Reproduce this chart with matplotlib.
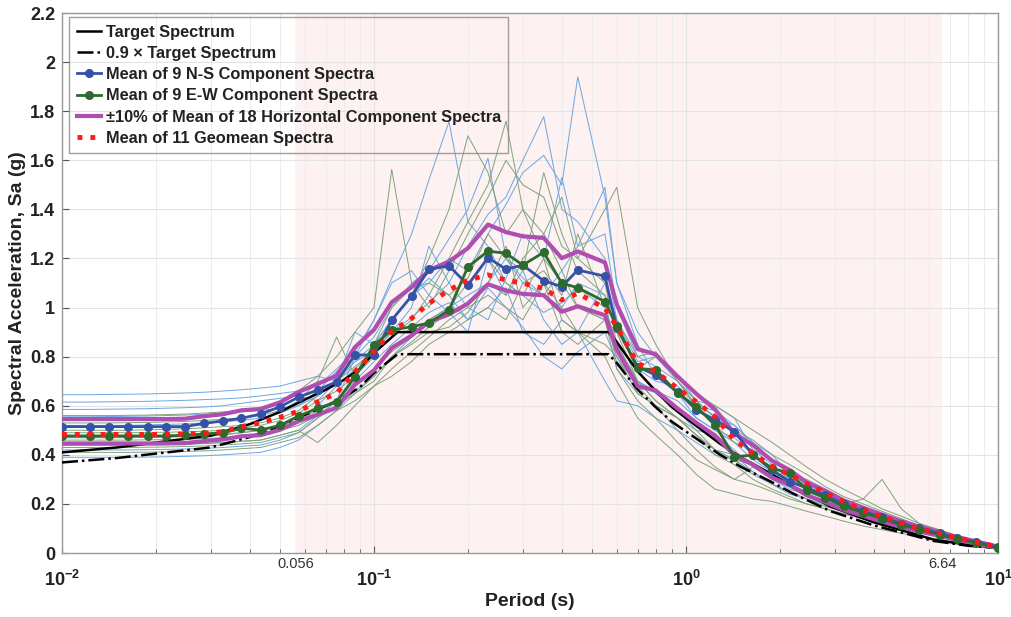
import matplotlib
matplotlib.use('Agg')
import matplotlib.pyplot as plt
import matplotlib.transforms as mtransforms
from matplotlib.ticker import FixedLocator, FuncFormatter, LogLocator, NullFormatter
import numpy as np

plt.rcParams['font.family'] = ['Liberation Sans', 'DejaVu Sans']
plt.rcParams['mathtext.fontset'] = 'custom'
plt.rcParams['mathtext.rm'] = 'Liberation Sans'
plt.rcParams['mathtext.bf'] = 'Liberation Sans:bold'

# periods (s)
T = [0.01, 0.0123, 0.0141, 0.0163, 0.0188, 0.0215, 0.0248, 0.0285, 0.0328, 0.0376,
     0.0433, 0.05, 0.0573, 0.066, 0.0759, 0.0869, 0.1, 0.114, 0.132, 0.15,
     0.174, 0.2, 0.232, 0.265, 0.3, 0.35, 0.4, 0.45, 0.55, 0.6,
     0.7, 0.8, 0.94, 1.08, 1.24, 1.43, 1.64, 1.89, 2.15, 2.44,
     2.8, 3.2, 3.7, 4.25, 4.9, 5.6, 6.5, 7.4, 8.5, 10]

# target spectrum
T_target = [0.01, 0.015, 0.02, 0.03, 0.04, 0.05, 0.06, 0.07, 0.08, 0.09, 0.1, 0.119,
            0.565, 0.6, 0.7, 0.8, 0.9, 1.0, 1.28, 1.5, 1.86, 2.2, 2.9, 4.0, 5.0, 6.2, 8.0, 10.0]
Sa_target = [0.41, 0.43, 0.45, 0.478, 0.525, 0.575, 0.625, 0.665, 0.705, 0.75, 0.815, 0.9,
             0.9, 0.86, 0.74, 0.66, 0.595, 0.55, 0.447, 0.39, 0.325, 0.27, 0.19, 0.125, 0.09, 0.055, 0.033, 0.022]

mean_ns = [0.515, 0.515, 0.515, 0.515, 0.515, 0.515, 0.515, 0.528, 0.538, 0.549,
           0.566, 0.596, 0.635, 0.664, 0.698, 0.807, 0.807, 0.949, 1.047, 1.156,
           1.17, 1.092, 1.203, 1.156, 1.173, 1.109, 1.085, 1.153, 1.128, 0.917,
           0.759, 0.725, 0.657, 0.583, 0.542, 0.494, 0.40, 0.338, 0.29, 0.265,
           0.235, 0.20, 0.17, 0.145, 0.12, 0.10, 0.08, 0.06, 0.045, 0.025]

mean_ew = [0.477, 0.477, 0.477, 0.477, 0.477, 0.477, 0.48, 0.485, 0.49, 0.508,
           0.501, 0.52, 0.558, 0.589, 0.616, 0.718, 0.847, 0.908, 0.922, 0.937,
           0.99, 1.166, 1.23, 1.221, 1.173, 1.225, 1.099, 1.081, 1.024, 0.925,
           0.752, 0.746, 0.651, 0.596, 0.521, 0.392, 0.399, 0.345, 0.325, 0.257,
           0.225, 0.19, 0.165, 0.14, 0.115, 0.095, 0.075, 0.058, 0.042, 0.022]

geomean = [0.483, 0.483, 0.483, 0.483, 0.483, 0.483, 0.485, 0.488, 0.494, 0.515,
           0.531, 0.553, 0.578, 0.616, 0.651, 0.739, 0.82, 0.902, 0.956, 1.017,
           1.071, 1.112, 1.133, 1.112, 1.099, 1.078, 1.031, 1.058, 0.997, 0.922,
           0.773, 0.739, 0.671, 0.616, 0.555, 0.46, 0.406, 0.352, 0.318, 0.284,
           0.245, 0.21, 0.175, 0.148, 0.122, 0.10, 0.08, 0.062, 0.045, 0.025]

# individual N-S component records
ns_records = [
    [0.645, 0.645, 0.646, 0.647, 0.648, 0.65, 0.652, 0.655, 0.66, 0.665, 0.672, 0.68, 0.70,
     0.72, 0.70, 0.78, 0.85, 0.95, 1.05, 1.10, 1.20, 1.15, 1.30, 1.42, 1.55, 1.62, 1.50, 1.94, 1.45, 1.10,
     0.85, 0.72, 0.65, 0.55, 0.50, 0.47, 0.40, 0.33, 0.28, 0.25, 0.22, 0.19, 0.16, 0.14, 0.12, 0.10, 0.08, 0.06, 0.045, 0.025],
    [0.615, 0.615, 0.616, 0.617, 0.618, 0.62, 0.622, 0.625, 0.628, 0.632, 0.64, 0.65, 0.66,
     0.68, 0.75, 0.82, 0.95, 1.12, 1.30, 1.52, 1.757, 1.35, 1.25, 1.10, 1.05, 0.98, 1.02, 1.08, 1.00, 0.85,
     0.70, 0.66, 0.62, 0.55, 0.50, 0.45, 0.38, 0.33, 0.30, 0.27, 0.24, 0.21, 0.18, 0.15, 0.125, 0.10, 0.08, 0.062, 0.046, 0.026],
    [0.585, 0.585, 0.586, 0.587, 0.588, 0.59, 0.592, 0.595, 0.60, 0.61, 0.62, 0.63, 0.64,
     0.62, 0.70, 0.78, 0.82, 0.90, 0.96, 1.02, 1.10, 1.25, 1.38, 1.45, 1.60, 1.778, 1.40, 1.35, 1.20, 0.95,
     0.75, 0.70, 0.68, 0.60, 0.58, 0.52, 0.45, 0.38, 0.32, 0.30, 0.26, 0.22, 0.19, 0.16, 0.13, 0.11, 0.09, 0.07, 0.05, 0.028],
    [0.555, 0.555, 0.556, 0.557, 0.558, 0.56, 0.562, 0.565, 0.57, 0.575, 0.58, 0.59, 0.60,
     0.66, 0.74, 0.80, 0.88, 1.00, 1.10, 1.15, 1.28, 1.40, 1.608, 1.20, 1.10, 1.05, 1.15, 1.25, 1.30, 1.00,
     0.80, 0.76, 0.70, 0.60, 0.56, 0.50, 0.40, 0.34, 0.30, 0.26, 0.23, 0.20, 0.17, 0.15, 0.125, 0.10, 0.08, 0.06, 0.045, 0.025],
    [0.52, 0.52, 0.52, 0.52, 0.522, 0.524, 0.526, 0.53, 0.535, 0.54, 0.55, 0.57, 0.60,
     0.64, 0.70, 0.90, 0.85, 0.95, 1.05, 1.12, 1.05, 0.95, 1.00, 1.08, 0.90, 0.85, 0.95, 0.90, 1.10, 0.95,
     0.78, 0.80, 0.72, 0.62, 0.60, 0.55, 0.42, 0.36, 0.30, 0.28, 0.25, 0.22, 0.18, 0.15, 0.125, 0.105, 0.085, 0.065, 0.048, 0.028],
    [0.47, 0.47, 0.47, 0.471, 0.472, 0.474, 0.476, 0.48, 0.485, 0.49, 0.50, 0.52, 0.55,
     0.60, 0.68, 0.75, 0.82, 0.90, 1.00, 1.25, 1.10, 1.00, 0.95, 1.12, 1.30, 1.20, 1.53, 1.25, 1.49, 1.10,
     0.90, 0.80, 0.70, 0.62, 0.55, 0.52, 0.45, 0.40, 0.32, 0.27, 0.24, 0.21, 0.18, 0.15, 0.13, 0.11, 0.09, 0.07, 0.05, 0.03],
    [0.44, 0.44, 0.44, 0.44, 0.441, 0.442, 0.444, 0.446, 0.45, 0.455, 0.46, 0.48, 0.50,
     0.56, 0.62, 0.70, 0.78, 0.85, 0.92, 0.98, 1.02, 0.95, 1.08, 1.00, 0.92, 0.80, 0.75, 0.82, 0.90, 0.78,
     0.70, 0.65, 0.58, 0.50, 0.48, 0.42, 0.35, 0.30, 0.26, 0.24, 0.21, 0.18, 0.16, 0.14, 0.115, 0.095, 0.075, 0.058, 0.042, 0.023],
    [0.42, 0.42, 0.42, 0.42, 0.421, 0.422, 0.424, 0.426, 0.43, 0.435, 0.44, 0.46, 0.49,
     0.55, 0.62, 0.80, 0.95, 1.10, 1.15, 1.05, 0.98, 0.90, 1.20, 1.05, 1.15, 0.95, 0.85, 0.90, 0.70, 0.62,
     0.60, 0.55, 0.50, 0.45, 0.40, 0.38, 0.32, 0.28, 0.24, 0.22, 0.19, 0.17, 0.15, 0.13, 0.11, 0.09, 0.07, 0.055, 0.04, 0.022],
    [0.39, 0.39, 0.39, 0.39, 0.391, 0.392, 0.394, 0.396, 0.40, 0.405, 0.41, 0.43, 0.46,
     0.52, 0.58, 0.65, 0.72, 0.80, 0.88, 0.95, 1.00, 1.05, 1.10, 1.20, 1.12, 1.05, 1.00, 1.10, 1.05, 0.75,
     0.65, 0.60, 0.55, 0.48, 0.42, 0.40, 0.33, 0.28, 0.25, 0.22, 0.20, 0.17, 0.15, 0.13, 0.11, 0.09, 0.07, 0.055, 0.04, 0.022],
]

# individual E-W component records
ew_records = [
    [0.56, 0.56, 0.56, 0.561, 0.562, 0.564, 0.566, 0.57, 0.575, 0.58, 0.59, 0.62, 0.66,
     0.72, 0.80, 0.90, 1.00, 1.563, 1.10, 1.00, 1.15, 1.30, 1.45, 1.60, 1.50, 1.45, 1.25, 1.20, 1.10, 0.85,
     0.75, 0.80, 0.72, 0.65, 0.60, 0.55, 0.50, 0.45, 0.40, 0.35, 0.30, 0.26, 0.22, 0.18, 0.15, 0.12, 0.095, 0.07, 0.05, 0.026],
    [0.53, 0.53, 0.53, 0.531, 0.532, 0.534, 0.536, 0.54, 0.545, 0.55, 0.56, 0.58, 0.62,
     0.70, 0.88, 0.72, 0.80, 0.95, 1.05, 1.20, 1.40, 1.70, 1.55, 1.30, 1.40, 1.20, 1.10, 1.00, 0.95, 0.90,
     0.70, 0.62, 0.55, 0.50, 0.42, 0.38, 0.36, 0.30, 0.27, 0.24, 0.21, 0.19, 0.17, 0.15, 0.13, 0.10, 0.08, 0.06, 0.045, 0.024],
    [0.50, 0.50, 0.50, 0.50, 0.502, 0.504, 0.506, 0.51, 0.515, 0.52, 0.53, 0.55, 0.58,
     0.64, 0.70, 0.76, 0.82, 0.88, 0.95, 1.05, 1.20, 1.35, 1.50, 1.76, 1.40, 1.30, 1.45, 1.20, 1.40, 1.49,
     1.00, 0.85, 0.70, 0.62, 0.55, 0.50, 0.46, 0.40, 0.36, 0.32, 0.27, 0.23, 0.20, 0.17, 0.14, 0.11, 0.09, 0.068, 0.048, 0.025],
    [0.49, 0.49, 0.49, 0.49, 0.491, 0.492, 0.494, 0.496, 0.50, 0.51, 0.52, 0.54, 0.57,
     0.62, 0.66, 0.72, 0.85, 1.00, 1.08, 1.10, 1.05, 1.12, 1.30, 1.20, 1.15, 1.55, 1.30, 1.15, 1.05, 0.95,
     0.80, 0.82, 0.70, 0.60, 0.52, 0.45, 0.42, 0.38, 0.32, 0.28, 0.24, 0.21, 0.18, 0.16, 0.13, 0.10, 0.08, 0.06, 0.044, 0.023],
    [0.47, 0.47, 0.47, 0.47, 0.471, 0.472, 0.474, 0.476, 0.48, 0.49, 0.50, 0.52, 0.54,
     0.58, 0.62, 0.68, 0.75, 0.82, 0.88, 0.95, 1.00, 1.10, 1.20, 1.10, 1.05, 1.20, 0.95, 0.90, 0.85, 0.80,
     0.65, 0.60, 0.50, 0.42, 0.35, 0.30, 0.28, 0.25, 0.22, 0.20, 0.18, 0.16, 0.14, 0.12, 0.10, 0.085, 0.068, 0.052, 0.038, 0.02],
    [0.46, 0.46, 0.46, 0.46, 0.461, 0.462, 0.464, 0.466, 0.47, 0.475, 0.48, 0.50, 0.52,
     0.56, 0.60, 0.66, 0.72, 0.80, 0.86, 0.92, 0.98, 1.02, 1.10, 1.25, 1.00, 1.10, 0.90, 0.85, 0.95, 0.75,
     0.62, 0.55, 0.45, 0.38, 0.34, 0.30, 0.35, 0.32, 0.28, 0.25, 0.22, 0.20, 0.22, 0.30, 0.18, 0.12, 0.09, 0.065, 0.045, 0.023],
    [0.44, 0.44, 0.44, 0.44, 0.441, 0.442, 0.444, 0.446, 0.45, 0.455, 0.46, 0.48, 0.50,
     0.45, 0.52, 0.60, 0.68, 0.75, 0.82, 0.88, 0.95, 1.00, 1.05, 1.00, 0.95, 1.10, 1.00, 0.90, 0.80, 0.70,
     0.55, 0.48, 0.40, 0.32, 0.26, 0.24, 0.22, 0.21, 0.19, 0.17, 0.15, 0.13, 0.11, 0.095, 0.08, 0.068, 0.055, 0.045, 0.035, 0.02],
    [0.43, 0.43, 0.43, 0.43, 0.431, 0.432, 0.434, 0.436, 0.44, 0.445, 0.45, 0.47, 0.49,
     0.55, 0.60, 0.65, 0.70, 0.80, 0.85, 0.90, 0.92, 0.98, 1.10, 1.05, 1.20, 1.30, 1.15, 1.00, 0.95, 0.80,
     0.68, 0.60, 0.55, 0.48, 0.42, 0.38, 0.33, 0.28, 0.25, 0.22, 0.19, 0.17, 0.15, 0.13, 0.11, 0.09, 0.07, 0.055, 0.04, 0.021],
    [0.41, 0.41, 0.41, 0.41, 0.411, 0.412, 0.414, 0.416, 0.42, 0.425, 0.43, 0.45, 0.47,
     0.52, 0.58, 0.62, 0.68, 0.72, 0.78, 0.85, 0.90, 0.95, 1.00, 0.95, 1.10, 1.15, 1.05, 1.30, 1.00, 0.85,
     0.70, 0.62, 0.55, 0.48, 0.40, 0.36, 0.30, 0.26, 0.23, 0.20, 0.18, 0.16, 0.14, 0.12, 0.10, 0.085, 0.068, 0.052, 0.038, 0.02],
]

T_min, T_max = 0.056, 6.64

mean_all = (np.array(mean_ns) + np.array(mean_ew)) / 2.0

fig = plt.figure(figsize=(10.11, 6.17), dpi=100)
ax = fig.add_axes([0.0613, 0.1037, 0.9258, 0.8752])

ax.axvspan(T_min, T_max, color='#fdf1f1', zorder=0, lw=0)

for rec in ns_records:
    ax.plot(T, rec, color='#6aa6e0', lw=0.7, zorder=2)
for rec in ew_records:
    ax.plot(T, rec, color='#7ea37a', lw=0.7, zorder=2)

ax.plot(T_target, Sa_target, color='black', lw=1.8, zorder=3, label='Target Spectrum')
ax.plot(T_target, 0.9 * np.array(Sa_target), color='black', lw=1.8, ls='-.', zorder=3,
        label='0.9 × Target Spectrum')
ax.plot(T, mean_ns, color='#3652a8', lw=2, marker='o', ms=5.5, zorder=5,
        label='Mean of 9 N-S Component Spectra')
ax.plot(T, mean_ew, color='#2d6a2d', lw=2, marker='o', ms=5.5, zorder=5,
        label='Mean of 9 E-W Component Spectra')
ax.plot(T, 1.1 * mean_all, color='#b04db0', lw=3, zorder=4,
        label='±10% of Mean of 18 Horizontal Component Spectra')
ax.plot(T, 0.9 * mean_all, color='#b04db0', lw=3, zorder=4)
ax.plot(T, geomean, color='#ff1a1a', lw=3.5, ls=':', zorder=6,
        label='Mean of 11 Geomean Spectra')

ax.set_xscale('log')
ax.set_xlim(0.01, 10)
ax.set_ylim(0, 2.2)

ax.xaxis.set_major_locator(FixedLocator([0.01, 0.1, 1, 10]))
ax.xaxis.set_major_formatter(FuncFormatter(
    lambda v, p: r'$\mathbf{10^{%d}}$' % int(round(np.log10(v)))))
ax.xaxis.set_minor_locator(LogLocator(base=10, subs=np.arange(2, 10)))
ax.xaxis.set_minor_formatter(NullFormatter())
ax.set_yticks(np.arange(0, 2.21, 0.2))
ax.yaxis.set_major_formatter(FuncFormatter(lambda v, p: '%g' % round(v, 1)))

ax.tick_params(axis='both', which='both', direction='in', colors='#555555', top=False, right=False)
ax.tick_params(axis='x', which='major', length=5, pad=12, labelsize=13, labelcolor='#222222')
ax.tick_params(axis='x', which='minor', length=3)
ax.tick_params(axis='y', which='major', length=5, pad=5, labelsize=13, labelcolor='#222222')
for lab in ax.get_yticklabels():
    lab.set_fontweight('bold')

ax.grid(True, which='major', color='#e4e4e4', lw=0.8, zorder=1)
ax.grid(True, which='minor', axis='x', color='#ececec', lw=0.7, zorder=1)
ax.set_axisbelow(True)
for s in ax.spines.values():
    s.set_color('#999999')
    s.set_linewidth(1)

trans = mtransforms.blended_transform_factory(ax.transData, ax.transAxes)
for v, s in [(T_min, '0.056'), (T_max, '6.64')]:
    ax.annotate(s, xy=(v, 0), xycoords=trans, xytext=(0, -3), textcoords='offset points',
                ha='center', va='top', fontsize=10.5, color='#333333')

ax.set_xlabel('Period (s)', fontsize=14, fontweight='bold', color='#222222', labelpad=2)
ax.set_ylabel('Spectral Acceleration, Sa (g)', fontsize=14, fontweight='bold', color='#222222',
              labelpad=3)

leg = ax.legend(loc='upper left', bbox_to_anchor=(0.008, 0.992), borderaxespad=0,
                prop={'weight': 'bold', 'size': 11.8}, handlelength=1.5, handletextpad=0.25,
                labelspacing=0.38, borderpad=0.45, fancybox=False)
leg.get_frame().set_facecolor('none')
leg.get_frame().set_edgecolor('#888888')
for t in leg.get_texts():
    t.set_color('#222222')

plt.savefig('out.png', dpi=100)
